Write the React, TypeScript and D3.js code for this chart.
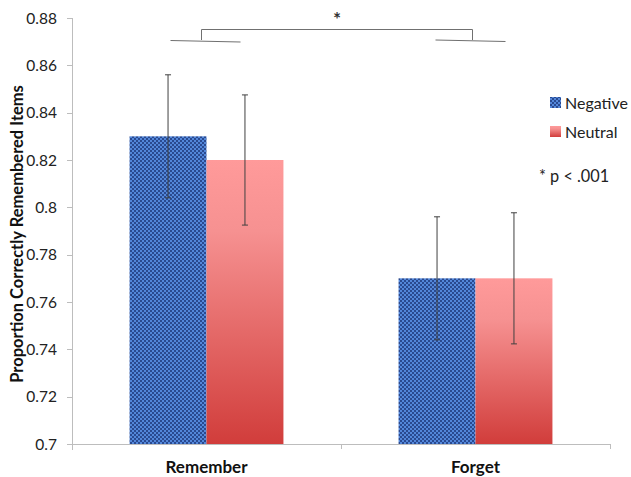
import { useEffect, useRef } from "react";
import * as d3 from "d3";

const groups = ["Remember", "Forget"];
const series = ["Negative", "Neutral"];
const negativeValues = [0.83, 0.77];
const neutralValues = [0.82, 0.77];
const negativeErrors = [0.026, 0.026];
const neutralErrors = [0.0275, 0.0277];
const yTicks = [0.7, 0.72, 0.74, 0.76, 0.78, 0.8, 0.82, 0.84, 0.86, 0.88];

const FONT = "Lato, 'Open Sans', sans-serif";

export default function App() {
  const ref = useRef<SVGSVGElement>(null);

  useEffect(() => {
    const svg = d3.select(ref.current);
    svg.selectAll("*").remove();

    const width = 631;
    const height = 477;
    const left = 72;
    const right = 610;

    const y = d3.scaleLinear().domain([0.7, 0.88]).range([444, 18]);
    const x = d3
      .scaleBand()
      .domain(groups)
      .range([left, right])
      .paddingInner(0.428)
      .paddingOuter(0.214);
    const xs = d3
      .scaleBand()
      .domain(series)
      .range([0, x.bandwidth()]);

    const defs = svg.append("defs");
    const pat = defs
      .append("pattern")
      .attr("id", "negPat")
      .attr("patternUnits", "userSpaceOnUse")
      .attr("width", 4)
      .attr("height", 4);
    pat.append("rect").attr("width", 4).attr("height", 4).attr("fill", "#5387da");
    [
      [0, 0], [1, 0], [1, 1], [2, 2], [3, 2], [3, 3], [0, 1], [2, 3],
    ].forEach(([px, py]) => {
      pat
        .append("rect")
        .attr("x", px)
        .attr("y", py)
        .attr("width", 1)
        .attr("height", 1)
        .attr("fill", "#2a4a90");
    });

    const grad = defs
      .append("linearGradient")
      .attr("id", "neuGrad")
      .attr("x1", 0)
      .attr("y1", 0)
      .attr("x2", 0)
      .attr("y2", 1);
    grad.append("stop").attr("offset", "0%").attr("stop-color", "#ff9a9a");
    grad.append("stop").attr("offset", "25%").attr("stop-color", "#f69191");
    grad.append("stop").attr("offset", "100%").attr("stop-color", "#d13d3b");

    // bars
    const g = svg.append("g");
    groups.forEach((grp, i) => {
      const x0 = x(grp)!;
      const vals = [negativeValues[i], neutralValues[i]];
      const errs = [negativeErrors[i], neutralErrors[i]];
      series.forEach((s, j) => {
        const bx = x0 + xs(s)!;
        g.append("rect")
          .attr("x", bx)
          .attr("y", y(vals[j]))
          .attr("width", xs.bandwidth())
          .attr("height", y(0.7) - y(vals[j]))
          .attr("fill", j === 0 ? "url(#negPat)" : "url(#neuGrad)");
      });
      series.forEach((s, j) => {
        const cx = x0 + xs(s)! + xs.bandwidth() / 2;
        const hi = y(vals[j] + errs[j]);
        const lo = y(vals[j] - errs[j]);
        g.append("line")
          .attr("x1", cx).attr("x2", cx)
          .attr("y1", hi).attr("y2", lo)
          .attr("stroke", "#404040").attr("stroke-width", 1);
        [hi, lo].forEach((yy) => {
          g.append("line")
            .attr("x1", cx - 3).attr("x2", cx + 3)
            .attr("y1", yy).attr("y2", yy)
            .attr("stroke", "#404040").attr("stroke-width", 1);
        });
      });
    });

    // y axis
    const axisColor = "#bdbdbd";
    svg.append("line")
      .attr("x1", left + 0.5).attr("x2", left + 0.5)
      .attr("y1", y(0.88)).attr("y2", y(0.7) + 6)
      .attr("stroke", axisColor);
    yTicks.forEach((t) => {
      svg.append("line")
        .attr("x1", left - 5).attr("x2", left)
        .attr("y1", Math.round(y(t)) + 0.5).attr("y2", Math.round(y(t)) + 0.5)
        .attr("stroke", axisColor);
      svg.append("text")
        .attr("x", 57)
        .attr("y", y(t))
        .attr("dy", "0.36em")
        .attr("text-anchor", "end")
        .attr("font-family", FONT)
        .attr("font-size", 15.5)
        .attr("fill", "#222")
        .text(String(t));
    });

    // x axis
    svg.append("line")
      .attr("x1", left).attr("x2", right)
      .attr("y1", y(0.7) + 0.5).attr("y2", y(0.7) + 0.5)
      .attr("stroke", axisColor);
    [left, left + x.step(), right].forEach((tx) => {
      svg.append("line")
        .attr("x1", tx + 0.5).attr("x2", tx + 0.5)
        .attr("y1", y(0.7)).attr("y2", y(0.7) + 5)
        .attr("stroke", axisColor);
    });
    groups.forEach((grp) => {
      svg.append("text")
        .attr("x", x(grp)! + x.bandwidth() / 2)
        .attr("y", 473)
        .attr("text-anchor", "middle")
        .attr("font-family", FONT)
        .attr("font-size", 17)
        .attr("font-weight", "bold")
        .attr("fill", "#111")
        .text(grp);
    });

    // y label
    svg.append("text")
      .attr("transform", `translate(23, ${y(0.79) + 3}) rotate(-90)`)
      .attr("text-anchor", "middle")
      .attr("font-family", FONT)
      .attr("font-size", 16.5)
      .attr("font-weight", "bold")
      .attr("fill", "#111")
      .text("Proportion Correctly Remembered Items");

    // significance bracket
    const bc = "#707070";
    const c1 = x("Remember")! + x.bandwidth() / 2 - 5;
    const c2 = x("Forget")! + x.bandwidth() / 2 - 3;
    svg.append("path")
      .attr("d", `M${c1},40 V29.5 H${c2} V40`)
      .attr("fill", "none")
      .attr("stroke", bc);
    svg.append("line")
      .attr("x1", c1 - 31).attr("x2", c1 + 39)
      .attr("y1", 40.5).attr("y2", 42)
      .attr("stroke", bc);
    svg.append("line")
      .attr("x1", c2 - 37).attr("x2", c2 + 33)
      .attr("y1", 40).attr("y2", 41.5)
      .attr("stroke", bc);
    svg.append("text")
      .attr("x", (c1 + c2) / 2)
      .attr("y", 26)
      .attr("text-anchor", "middle")
      .attr("font-family", FONT)
      .attr("font-size", 19)
      .attr("font-weight", "bold")
      .attr("fill", "#333")
      .text("*");

    // legend
    const lg = svg.append("g").attr("transform", "translate(550, 0)");
    series.forEach((s, j) => {
      const yy = 97 + j * 29;
      lg.append("rect")
        .attr("x", 0).attr("y", yy)
        .attr("width", 11).attr("height", 11)
        .attr("fill", j === 0 ? "url(#negPat)" : "url(#neuGrad)");
      lg.append("text")
        .attr("x", 15).attr("y", yy + 11.5)
        .attr("font-family", FONT)
        .attr("font-size", 16)
        .attr("fill", "#222")
        .text(s);
    });
    svg.append("text")
      .attr("x", 539).attr("y", 182)
      .attr("font-family", FONT)
      .attr("font-size", 16.3)
      .attr("fill", "#222")
      .text("* p < .001");

    svg.attr("width", width).attr("height", height);
  }, []);

  return (
    <svg
      ref={ref}
      width={631}
      height={477}
      style={{ position: "absolute", left: 0, top: 0, background: "#fff" }}
    />
  );
}
